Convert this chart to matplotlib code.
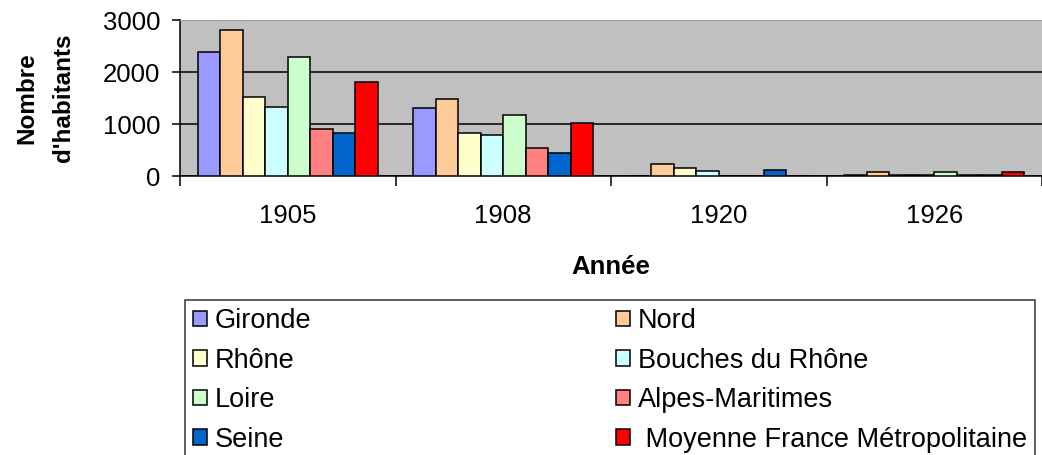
import numpy as np
import matplotlib
matplotlib.use("Agg")
import matplotlib.pyplot as plt

plt.rcParams['font.family'] = ['Liberation Sans', 'DejaVu Sans']

annees = ["1905", "1908", "1920", "1926"]
series = ["Gironde", "Nord", "Rhône", "Bouches du Rhône", "Loire",
          "Alpes-Maritimes", "Seine", " Moyenne France Métropolitaine"]
couleurs = ["#9999FF", "#FFCC99", "#FFFFCC", "#CCFFFF", "#CCFFCC",
            "#FF8080", "#0066CC", "#FF0000"]

gironde = [2380, 1300, 0, 25]
nord = [2800, 1490, 225, 75]
rhone = [1525, 830, 150, 25]
bouches = [1330, 790, 105, 25]
loire = [2290, 1170, 0, 72]
alpes = [905, 530, 0, 25]
seine = [830, 445, 110, 25]
moyenne = [1805, 1020, 0, 70]
valeurs = [gironde, nord, rhone, bouches, loire, alpes, seine, moyenne]

W, H = 1042, 455
fig = plt.figure(figsize=(W / 100, H / 100), dpi=100)
ax = fig.add_axes([180 / W, 1 - 176 / H, (W - 180) / W, 156 / H])
ax.set_facecolor("#C0C0C0")

bw = 1 / 9.6
marge = 0.8 * bw
x = np.arange(len(annees))
barres = []
for i, (nom, vals, c) in enumerate(zip(series, valeurs, couleurs)):
    b = ax.bar(x + marge + (i + 0.5) * bw, vals, width=bw, color=c,
               edgecolor="black", linewidth=1.1, label=nom, zorder=3)
    barres.append(b)

ax.set_xlim(0, 3.99)
ax.set_ylim(0, 3000)
ax.set_yticks([0, 1000, 2000, 3000])
ax.yaxis.grid(True, color="black", linewidth=1.1, zorder=1)
ax.set_axisbelow(True)

ax.set_xticks(x + 0.5)
ax.set_xticklabels(annees)
ax.set_xticks(np.arange(0, 5), minor=True)
ax.tick_params(axis="x", which="major", length=0, pad=20, labelsize=18.5)
ax.tick_params(axis="x", which="minor", length=7, width=1.1, direction="out")
ax.tick_params(axis="y", length=6, width=1.1, labelsize=18.5, pad=8)

ax.spines["right"].set_visible(False)
ax.spines["top"].set_color("#9a9a9a")
ax.spines["left"].set_linewidth(1.1)
ax.spines["bottom"].set_linewidth(1.1)

ax.set_ylabel("Nombre\nd'habitants", fontsize=17.5, fontweight="bold",
              linespacing=1.75)
ax.yaxis.set_label_coords(-0.122, 0.5)
ax.set_xlabel("Année", fontsize=18.5, fontweight="bold")
ax.xaxis.set_label_coords(0.5, -0.505)

# ordre ligne par ligne comme dans l'original
ordre = [0, 2, 4, 6, 1, 3, 5, 7]
leg = fig.legend([barres[k] for k in ordre], [series[k] for k in ordre],
                 loc="upper left", ncol=2,
                 bbox_to_anchor=(185 / W, 1 - 300 / H, (1035 - 185) / W, 0),
                 mode="expand", fontsize=19.5, frameon=True, fancybox=False,
                 edgecolor="black", handlelength=0.5, handleheight=0.5,
                 handletextpad=0.3, labelspacing=0.5, borderaxespad=0,
                 borderpad=0.3)
leg.get_frame().set_linewidth(1.1)

fig.savefig("out.png", dpi=100)
